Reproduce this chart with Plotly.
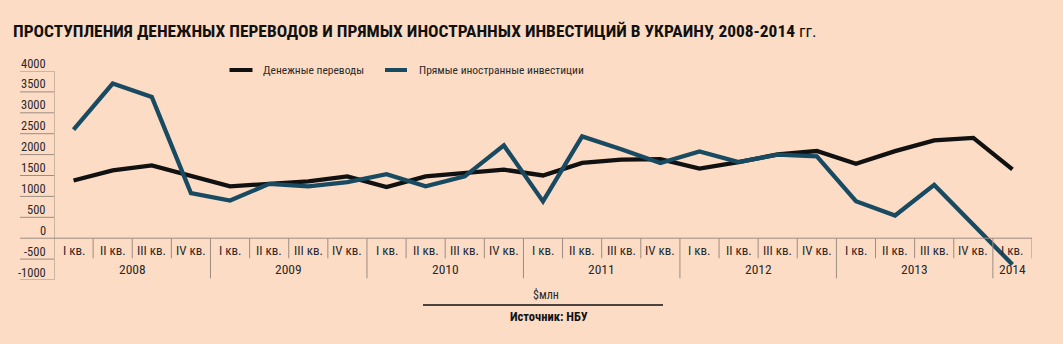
import plotly.graph_objects as go

# Quarterly inflows to Ukraine, $ mln
quarters = ["I кв.", "II кв.", "III кв.", "IV кв."] * 6 + ["I кв."]
years = ["2008", "2009", "2010", "2011", "2012", "2013", "2014"]
year_quarters = [4, 4, 4, 4, 4, 4, 1]
remittances = [1380, 1620, 1740, 1480, 1240, 1300, 1360, 1480,
               1225, 1480, 1560, 1640, 1500, 1800, 1880, 1890,
               1665, 1820, 2005, 2085, 1780, 2084, 2340, 2400, 1645]
fdi = [2600, 3700, 3380, 1080, 900, 1300, 1240, 1340,
       1530, 1240, 1480, 2220, 880, 2436, 2130, 1800,
       2075, 1820, 2000, 1957, 886, 544, 1275, 320, -630]
y_ticks = [4000, 3500, 3000, 2500, 2000, 1500, 1000, 500, 0, -500, -1000]

series_names = ["Денежные переводы", "Прямые иностранные инвестиции"]
BLACK = "#111111"
BLUE = "#184a62"
BG = "#fddcc5"
GRID = "#9c8c82"
TEXT = "#2a2a2a"
FONT = "Roboto Condensed, Open Sans Condensed, DejaVu Sans Condensed, sans-serif"

L, R, T, B = 54, 31, 71, 64
W, H = 1063, 344
PW, PH = W - L - R, H - T - B


def px_x(px):
    return (px - L) / PW


def px_y(py):
    return (H - B - py) / PH


x = list(range(len(quarters)))

fig = go.Figure()
fig.add_trace(go.Scatter(x=x, y=remittances, mode="lines", name=series_names[0],
                         line=dict(color=BLACK, width=4.3), showlegend=False))
fig.add_trace(go.Scatter(x=x, y=fdi, mode="lines", name=series_names[1],
                         line=dict(color=BLUE, width=4.3), showlegend=False))

shapes = []
annotations = []

# value axis: short rules under each label
for v in y_ticks:
    x1 = 1.0 if v == 0 else 0.0
    shapes.append(dict(type="line", xref="paper", yref="y", x0=px_x(20), x1=x1,
                       y0=v, y1=v, line=dict(color=GRID, width=1)))
    annotations.append(dict(xref="paper", yref="y", x=px_x(48), y=v, yshift=8,
                            text=str(v), showarrow=False, xanchor="right",
                            yanchor="middle", font=dict(family=FONT, size=12.5, color=TEXT)))

# vertical axis line
shapes.append(dict(type="line", xref="x", yref="y", x0=-0.5, x1=-0.5, y0=4000, y1=-1000,
                   line=dict(color=GRID, width=1)))

# quarter / year separators
year_edges = []
acc = 0
for n in year_quarters:
    acc += n
    year_edges.append(acc - 0.5)
for k in range(len(quarters)):
    xe = k + 0.5
    depth = -960 if xe in year_edges[:-1] else -480
    shapes.append(dict(type="line", xref="x", yref="y", x0=xe, x1=xe, y0=0, y1=depth,
                       line=dict(color=GRID, width=1)))

# category labels
for k, q in enumerate(quarters):
    annotations.append(dict(xref="x", yref="y", x=k, y=0, yshift=-12, text=q,
                            showarrow=False, xanchor="center", yanchor="middle",
                            font=dict(family=FONT, size=13, color=TEXT)))
start = 0
for yr, n in zip(years, year_quarters):
    annotations.append(dict(xref="x", yref="y", x=start + (n - 1) / 2, y=0, yshift=-31,
                            text=yr, showarrow=False, xanchor="center", yanchor="middle",
                            font=dict(family=FONT, size=13.5, color=TEXT)))
    start += n

# legend
legend_items = [(229.5, 252.5, 261, BLACK), (385, 407, 417, BLUE)]
for name, (a, b, tx, col) in zip(series_names, legend_items):
    shapes.append(dict(type="line", xref="paper", yref="paper", x0=px_x(a), x1=px_x(b),
                       y0=px_y(70), y1=px_y(70), line=dict(color=col, width=4)))
    annotations.append(dict(xref="paper", yref="paper", x=px_x(tx), y=px_y(70), text=name,
                            showarrow=False, xanchor="left", yanchor="middle",
                            font=dict(family=FONT, size=11.5, color=TEXT)))

# title
annotations.append(dict(xref="paper", yref="paper", x=px_x(11), y=px_y(31),
                        text="<b>ПРОСТУПЛЕНИЯ ДЕНЕЖНЫХ ПЕРЕВОДОВ И ПРЯМЫХ ИНОСТРАННЫХ ИНВЕСТИЦИЙ В УКРАИНУ, 2008-2014</b> гг.",
                        showarrow=False, xanchor="left", yanchor="middle",
                        font=dict(family=FONT, size=17.4, color="#111111")))

# unit and source
annotations.append(dict(xref="paper", yref="paper", x=px_x(546), y=px_y(295), text="$млн",
                        showarrow=False, xanchor="center", yanchor="middle",
                        font=dict(family=FONT, size=12, color=TEXT)))
shapes.append(dict(type="line", xref="paper", yref="paper", x0=px_x(423), x1=px_x(663),
                   y0=px_y(305), y1=px_y(305), line=dict(color="#111111", width=1.5)))
annotations.append(dict(xref="paper", yref="paper", x=px_x(549), y=px_y(316),
                        text="<b>Источник: НБУ</b>", showarrow=False, xanchor="center",
                        yanchor="middle", font=dict(family=FONT, size=12.5, color="#111111")))

fig.update_layout(
    width=W, height=H,
    margin=dict(l=L, r=R, t=T, b=B, pad=0),
    paper_bgcolor=BG, plot_bgcolor=BG,
    xaxis=dict(range=[-0.5, len(quarters) - 0.5], visible=False, fixedrange=True),
    yaxis=dict(range=[-1000, 4000], visible=False, fixedrange=True),
    shapes=shapes, annotations=annotations,
    showlegend=False,
)

fig.write_html("out.html")
